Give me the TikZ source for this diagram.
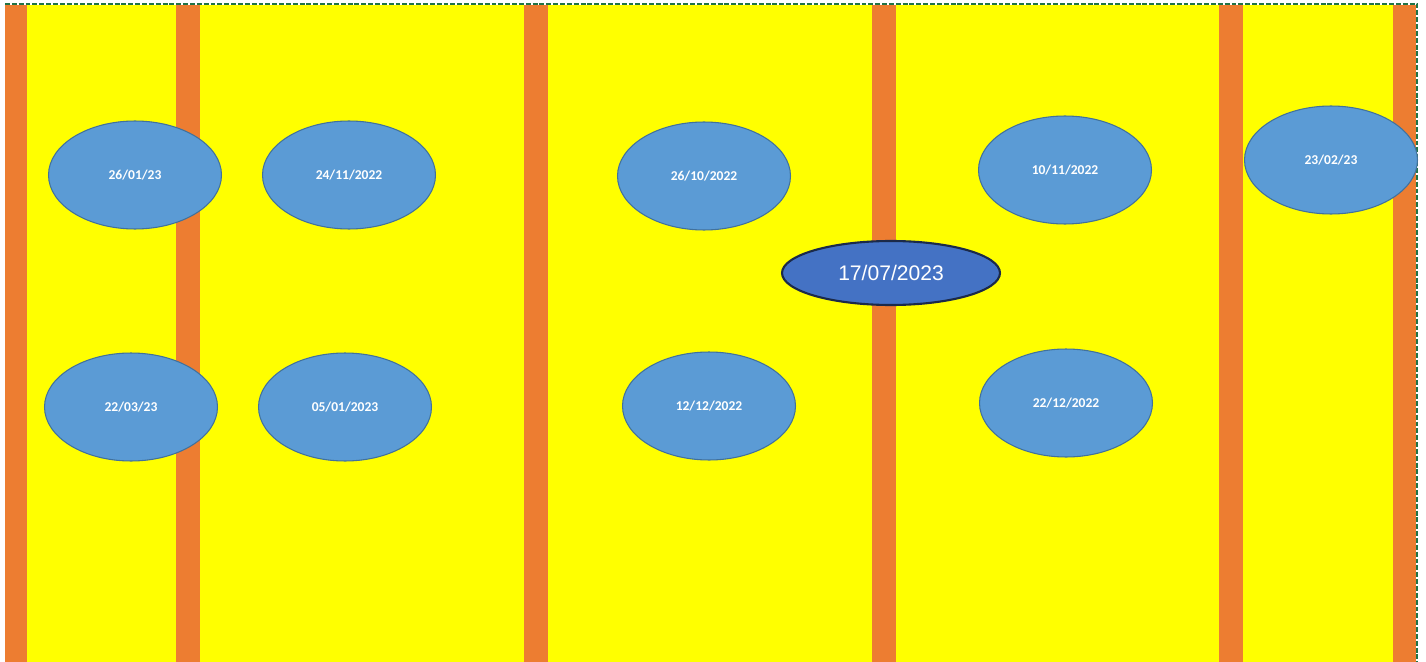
\documentclass[tikz,border=0pt]{standalone}
\usepackage{fontspec}
\usepackage{tikz}
\usepackage{xcolor}
\usetikzlibrary{shapes.geometric}
\newfontfamily\calibfont{Carlito}
\newfontfamily\arialfont{Liberation Sans}
\definecolor{Yellow}{HTML}{FFFF00}
\definecolor{Orange}{HTML}{ED7D31}
\definecolor{LightBlue}{HTML}{5B9BD5}
\definecolor{LightEdge}{HTML}{41719C}
\definecolor{DarkBlue}{HTML}{4472C4}
\definecolor{DarkEdge}{HTML}{1B2A4A}
\definecolor{Frame}{HTML}{217346}

\begin{document}
\begin{tikzpicture}[x=0.02cm,y=-0.02cm,
    datebubble/.style={ellipse,fill=LightBlue,draw=LightEdge,line width=0.6pt,
      minimum width=3.46cm,minimum height=2.16cm,inner sep=0pt,text=white,
      font=\calibfont\bfseries\fontsize{7.7}{9}\selectfont},
    keydate/.style={ellipse,fill=DarkBlue,draw=DarkEdge,line width=1.2pt,inner sep=0pt,
      minimum width=4.36cm,minimum height=1.28cm,
      text=white,font=\arialfont\fontsize{12}{14}\selectfont}]
  \useasboundingbox (0,0) rectangle (1426,662);
  \fill[white] (0,0) rectangle (1426,662);
  \fill[Yellow] (5,5) rectangle (1416,662);
  % vertical bars
  \foreach \a/\b in {5/27,176/200,524/548,872/896,1219/1243,1393/1416}
    \fill[Orange] (\a,5) rectangle (\b,662);
  \draw[Frame,line width=1.4pt,dash pattern=on 2.8pt off 1.1pt] (5,4) -- (1417,4) -- (1417,662);
  % dates
  \node[datebubble] (d260123) at (135,175) {26/01/23};
  \node[datebubble] (d241122) at (349,175) {24/11/2022};
  \node[datebubble] (d261022) at (704,176) {26/10/2022};
  \node[datebubble] (d101122) at (1065,170) {10/11/2022};
  \node[datebubble] (d230223) at (1331,160) {23/02/23};
  \node[datebubble] (d220323) at (131,407) {22/03/23};
  \node[datebubble] (d050123) at (345,407) {05/01/2023};
  \node[datebubble] (d121222) at (709,406) {12/12/2022};
  \node[datebubble] (d221222) at (1066,403) {22/12/2022};
  \node[keydate] (d170723) at (891,273) {17/07/2023};
\end{tikzpicture}
\end{document}
